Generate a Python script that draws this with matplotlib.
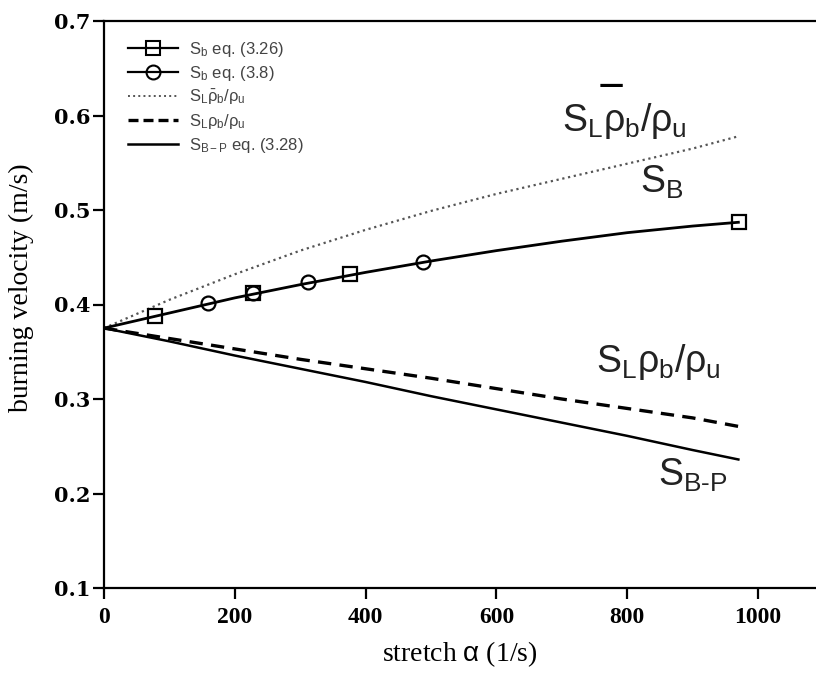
import numpy as np
import matplotlib
matplotlib.use('Agg')
import matplotlib.pyplot as plt
from matplotlib.lines import Line2D

plt.rcParams['mathtext.fontset'] = 'custom'
plt.rcParams['mathtext.rm'] = 'Liberation Sans'
plt.rcParams['mathtext.it'] = 'Liberation Sans'
plt.rcParams['mathtext.bf'] = 'Liberation Sans:bold'

# data
x_curve = [0, 100, 200, 300, 400, 500, 600, 700, 800, 900, 970]
sb_curve = [0.375, 0.391, 0.407, 0.421, 0.434, 0.446, 0.457, 0.467, 0.476, 0.483, 0.487]
rho_bar = [0.375, 0.405, 0.432, 0.457, 0.479, 0.499, 0.517, 0.533, 0.549, 0.565, 0.578]
rho_ratio = [0.375, 0.364, 0.353, 0.342, 0.332, 0.322, 0.311, 0.300, 0.290, 0.280, 0.271]
sbp_curve = [0.375, 0.361, 0.346, 0.332, 0.318, 0.303, 0.289, 0.275, 0.261, 0.246, 0.236]

x_sq = [78, 228, 376, 971]
y_sq = [0.388, 0.412, 0.432, 0.487]
x_ci = [159, 228, 312, 488]
y_ci = [0.402, 0.412, 0.424, 0.445]

fig = plt.figure(figsize=(8.16, 6.73), dpi=100)
ax = fig.add_axes([104/816, 1-588/673, (816-104)/816, (588-21)/673])

ax.plot(x_curve, rho_bar, ':', color='#555555', lw=1.6)
ax.plot(x_curve, rho_ratio, '--', color='black', lw=2.4, dashes=(4, 2.5))
ax.plot(x_curve, sbp_curve, '-', color='black', lw=1.8)
ax.plot(x_curve, sb_curve, '-', color='black', lw=2.0)
ax.plot(x_sq, y_sq, 's', ms=10, mfc='none', mec='black', mew=1.6)
ax.plot(x_ci, y_ci, 'o', ms=10, mfc='none', mec='black', mew=1.6)

ax.set_xlim(0, (816-104)/0.654)
ax.set_ylim(0.1, 0.7)
ax.set_xticks([0, 200, 400, 600, 800, 1000])
ax.set_yticks([0.1, 0.2, 0.3, 0.4, 0.5, 0.6, 0.7])
ax.set_yticklabels(['0.1', '0.2', '0.3', '0.4', '0.5', '0.6', '0.7'])
ax.spines['right'].set_visible(False)
for s in ['left', 'bottom', 'top']:
    ax.spines[s].set_linewidth(1.6)
ax.tick_params(axis='both', direction='out', length=8, width=1.6)
ax.tick_params(axis='x', pad=6)
ax.tick_params(axis='y', pad=2)
for lab in ax.get_xticklabels():
    lab.set_fontfamily('Liberation Serif')
    lab.set_fontweight('bold')
    lab.set_fontsize(17)
for lab in ax.get_yticklabels():
    lab.set_fontfamily('DejaVu Serif')
    lab.set_fontweight('bold')
    lab.set_fontsize(15)

ax.set_xlabel(r'stretch $\alpha$ (1/s)', fontfamily='Liberation Serif', fontsize=20, labelpad=8)
ax.set_ylabel('burning velocity (m/s)', fontfamily='Liberation Serif', fontsize=20)
ax.yaxis.set_label_coords(-0.099, 0.53)

handles = [
    Line2D([], [], color='black', lw=1.6, marker='s', ms=10, mfc='none', mew=1.5),
    Line2D([], [], color='black', lw=1.6, marker='o', ms=10, mfc='none', mew=1.5),
    Line2D([], [], color='#555555', lw=1.4, ls=':'),
    Line2D([], [], color='black', lw=2.4, ls='--', dashes=(3, 1.5)),
    Line2D([], [], color='black', lw=1.8),
]
labels = [r'S$_\mathrm{b}$ eq. (3.26)', r'S$_\mathrm{b}$ eq. (3.8)',
          r'S$_\mathrm{L}\bar{\rho}_\mathrm{b}/\rho_\mathrm{u}$',
          r'S$_\mathrm{L}\rho_\mathrm{b}/\rho_\mathrm{u}$',
          r'S$_\mathrm{B-P}$ eq. (3.28)']
leg = ax.legend(handles, labels, loc='upper left', frameon=False,
                bbox_to_anchor=(0.024, 0.979), handlelength=3.0,
                handletextpad=0.7, labelspacing=0.3, borderaxespad=0.0,
                prop={'family': 'Liberation Sans', 'size': 12})
for t in leg.get_texts():
    t.set_color('#444444')

big = dict(fontsize=27, fontfamily='Liberation Sans', color='#222222')
ax.text(700, 0.584, r'S$_\mathrm{L}\rho_\mathrm{b}/\rho_\mathrm{u}$', **big)
ax.text(775, 0.632, '\u2014', fontsize=18, fontweight='bold', color='black',
        ha='center', va='center')
ax.text(820, 0.518, r'S$_\mathrm{B}$', **big)
ax.text(752, 0.329, r'S$_\mathrm{L}\rho_\mathrm{b}/\rho_\mathrm{u}$', **big)
ax.text(847, 0.208, r'S$_\mathrm{B\text{-}P}$', **big)

fig.savefig('out.png', dpi=100)
